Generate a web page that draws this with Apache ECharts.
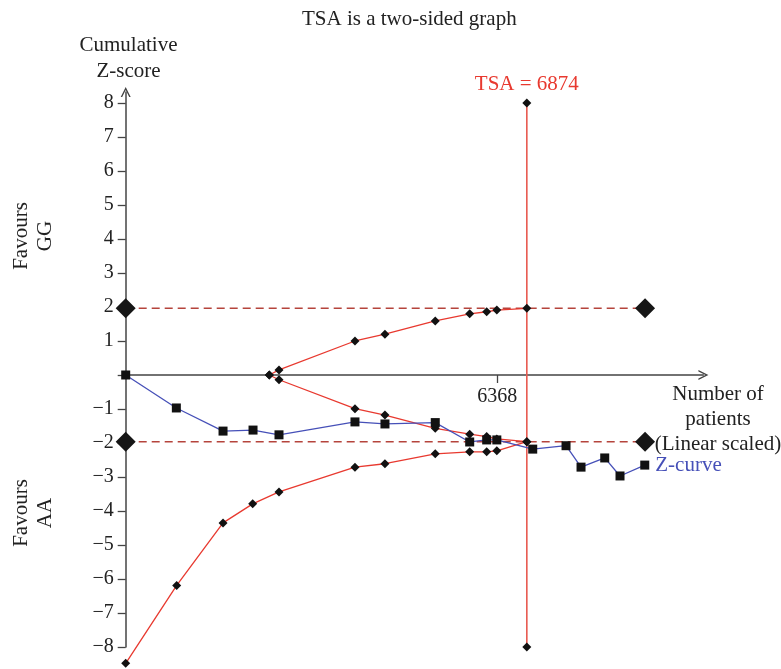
<!DOCTYPE html>
<html><head><meta charset="utf-8">
<script src="https://cdn.jsdelivr.net/npm/echarts@6/dist/echarts.min.js"></script>
<style>html,body{margin:0;padding:0;background:#fff}#c{width:781px;height:669px}</style>
</head><body><div id="c"></div>
<script>
// Z-curve (cumulative Z-score)
const zPatients = [0, 868, 1668, 2182, 2627, 3929, 4443, 5305, 5895, 6186, 6360, 6975, 7546, 7803, 8209, 8471, 8895];
const zValues   = [0, -0.97, -1.65, -1.62, -1.76, -1.38, -1.44, -1.40, -1.97, -1.91, -1.91, -2.18, -2.08, -2.71, -2.44, -2.97, -2.65];
// Inner (futility) boundaries
const innerPatients = [2461, 2627, 3929, 4443, 5305, 5895, 6186, 6360, 6874];
const innerUpper    = [0, 0.15, 1.0, 1.2, 1.59, 1.8, 1.86, 1.91, 1.96];
const innerLower    = [0, -0.14, -0.99, -1.18, -1.57, -1.74, -1.81, -1.88, -1.96];
// Lower monitoring boundary
const outerPatients = [0, 874, 1668, 2176, 2627, 3929, 4443, 5305, 5895, 6186, 6360, 6874];
const outerLower    = [-8.48, -6.19, -4.35, -3.79, -3.44, -2.71, -2.61, -2.32, -2.26, -2.26, -2.23, -1.96];
// Conventional boundaries and TSA
const conventional = [1.96, -1.96];
const conventionalEnd = 8900;
const tsaSize = 6874;
const tsaSpan = [-8, 8];
const xTickValues = [6368];
const yTickValues = [-8,-7,-6,-5,-4,-3,-2,-1,0,1,2,3,4,5,6,7,8];
const yLabelValues = [-8,-7,-6,-5,-4,-3,-2,-1,1,2,3,4,5,6,7,8];

const FONT = '"Liberation Serif", "DejaVu Serif", serif';
const AXIS = '#444';
const RED = '#e8392f';
const BLUE = '#4650b8';
const arrow = 'path://M0,10 L5,0 L10,10 L8.5,10 L5,3 L1.5,10 Z';

const Y_MIN = -8, Y_MAX = 8.32;
const GRID = { left: 125.7, top: 92.1, width: 577.7, height: 554.9 };
// offset of the x axis from the grid bottom so that it sits at z = 0
const xOffset = -GRID.height * (0 - Y_MIN) / (Y_MAX - Y_MIN);

const pair = (xs, ys) => xs.map((x, i) => [x, ys[i]]);
const smallDiamond = { symbol: 'diamond', symbolSize: 9, itemStyle: { color: '#111' } };

const series = [];
conventional.forEach(v => {
  series.push({
    type: 'line', data: [[0, v], [conventionalEnd, v]], symbol: 'diamond', symbolSize: 20,
    itemStyle: { color: '#161616' }, lineStyle: { color: '#b5443c', width: 1.5, type: [8, 5] },
    silent: true, z: 2
  });
});
series.push(Object.assign({ type: 'line', data: pair(innerPatients, innerUpper), lineStyle: { color: RED, width: 1.3 }, clip: false, z: 3 }, smallDiamond));
series.push(Object.assign({ type: 'line', data: pair(innerPatients, innerLower), lineStyle: { color: RED, width: 1.3 }, clip: false, z: 3 }, smallDiamond));
series.push(Object.assign({ type: 'line', data: pair(outerPatients, outerLower), lineStyle: { color: RED, width: 1.3 }, clip: false, z: 3 }, smallDiamond));
series.push(Object.assign({
  type: 'line',
  data: [{ value: [tsaSize, tsaSpan[0]] }, {
    value: [tsaSize, tsaSpan[1]],
    label: { show: true, position: 'top', distance: 3, formatter: 'TSA = ' + tsaSize, color: RED, fontSize: 21, fontFamily: FONT }
  }],
  lineStyle: { color: '#e85a50', width: 1.6 }, clip: false, z: 3
}, smallDiamond));
series.push({
  type: 'line',
  data: pair(zPatients, zValues).map((p, i, a) => i === a.length - 1 ? {
    value: p, label: { show: true, position: 'right', distance: 6, formatter: 'Z-curve', color: BLUE, fontSize: 21, fontFamily: FONT }
  } : { value: p }),
  symbol: 'rect', symbolSize: 9, itemStyle: { color: '#111' },
  lineStyle: { color: BLUE, width: 1.3 }, clip: false, z: 5
});

const chart = echarts.init(document.getElementById('c'), null, { renderer: 'canvas' });
chart.setOption({
  animation: false,
  backgroundColor: '#fff',
  title: { text: 'TSA is a two-sided graph', left: 297, top: 4, textStyle: { fontFamily: FONT, fontSize: 21, fontWeight: 'normal', color: '#222' } },
  grid: GRID,
  xAxis: {
    type: 'value', min: 0, max: 9900, position: 'bottom', offset: xOffset,
    axisLine: { onZero: false, symbol: ['none', arrow], symbolSize: [11, 10], lineStyle: { color: AXIS, width: 1.5 } },
    axisTick: { customValues: xTickValues, length: 8, lineStyle: { color: AXIS, width: 1.3 } },
    axisLabel: { customValues: xTickValues, margin: 12, fontFamily: FONT, fontSize: 20, color: '#222', formatter: v => String(v) },
    splitLine: { show: false }
  },
  yAxis: {
    type: 'value', min: Y_MIN, max: Y_MAX, interval: 1,
    axisLine: { onZero: false, symbol: ['none', arrow], symbolSize: [12, 10], lineStyle: { color: AXIS, width: 1.5 } },
    axisTick: { customValues: yTickValues, length: 8, lineStyle: { color: AXIS, width: 1.3 } },
    axisLabel: { customValues: yLabelValues, margin: 12, fontFamily: FONT, fontSize: 20, color: '#222',
      formatter: v => v < 0 ? '\u2212' + Math.abs(v) : String(v) },
    splitLine: { show: false }
  },
  graphic: [
    { type: 'text', x: 128.5, y: 32, style: { text: 'Cumulative\nZ-score', textAlign: 'center', textVerticalAlign: 'top', lineHeight: 26, font: '21px ' + FONT, fill: '#222' } },
    { type: 'text', x: 718, y: 382, style: { text: 'Number of\npatients\n(Linear scaled)', textAlign: 'center', textVerticalAlign: 'top', lineHeight: 25, font: '21px ' + FONT, fill: '#222' } },
    { type: 'text', x: 33, y: 236, rotation: Math.PI / 2, style: { text: 'Favours\nGG', textAlign: 'center', textVerticalAlign: 'middle', lineHeight: 24, font: '21px ' + FONT, fill: '#222' } },
    { type: 'text', x: 33, y: 513, rotation: Math.PI / 2, style: { text: 'Favours\nAA', textAlign: 'center', textVerticalAlign: 'middle', lineHeight: 24, font: '21px ' + FONT, fill: '#222' } }
  ],
  series: series
});
</script></body></html>
